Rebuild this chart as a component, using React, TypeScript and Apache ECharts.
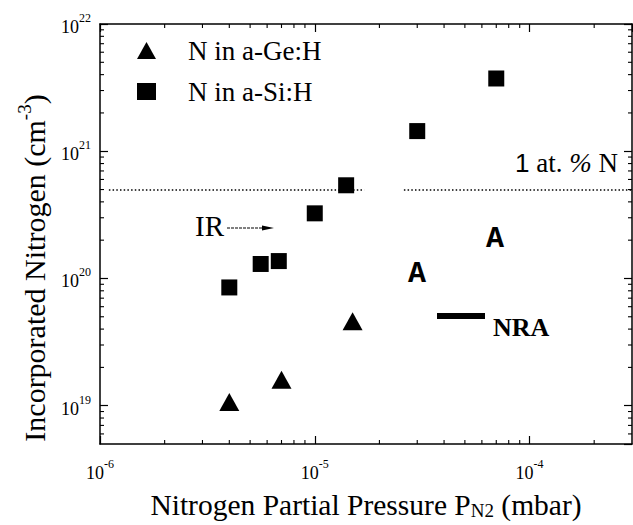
import React, { useEffect, useRef } from "react";
import * as echarts from "echarts";

const SERIF = "Liberation Serif";
const SANS = "Liberation Sans";
const MONO = "Liberation Mono";

// ---- data ----
const geLabel = "N in a-Ge:H";
const siLabel = "N in a-Si:H";
const gePressure = [4e-6, 7e-6, 1.5e-5];
const geNitrogen = [1.07e19, 1.6e19, 4.6e19];
const siPressure = [4e-6, 5.6e-6, 6.8e-6, 1e-5, 1.4e-5, 3e-5, 7e-5];
const siNitrogen = [8.5e19, 1.3e20, 1.37e20, 3.25e20, 5.4e20, 1.44e21, 3.73e21];

// axes
const xMin = 1e-6;
const xMax = 3e-4;
const yMin = 5e18;
const yMax = 1e22;
const xMinorTicks = [
  2e-6, 3e-6, 4e-6, 5e-6, 6e-6, 7e-6, 8e-6, 9e-6,
  2e-5, 3e-5, 4e-5, 5e-5, 6e-5, 7e-5, 8e-5, 9e-5,
  2e-4,
];
const yMinorTicks = [
  6e18, 7e18, 8e18, 9e18,
  2e19, 3e19, 4e19, 5e19, 6e19, 7e19, 8e19, 9e19,
  2e20, 3e20, 4e20, 5e20, 6e20, 7e20, 8e20, 9e20,
  2e21, 3e21, 4e21, 5e21, 6e21, 7e21, 8e21, 9e21,
];

// 1 at.% N reference level (dotted line, drawn in two pieces)
const onePercentLevel = 5e20;
const onePercentStarts = [1.1e-6, 2.6e-5];
const onePercentEnds = [1.7e-5, 3e-4];

const tickRich = {
  b: { fontFamily: SERIF, fontSize: 18, lineHeight: 24, color: "#000", verticalAlign: "bottom" },
  s: { fontFamily: SERIF, fontSize: 12, lineHeight: 12, color: "#000", verticalAlign: "top" },
};
const powLabel = (v: number) => `{b|10}{s|${Math.round(Math.log10(v))}}`;

const axisLine = { show: true, onZero: false, lineStyle: { color: "#000", width: 1.5 } };
const majorTick = { show: true, inside: true, length: 8, lineStyle: { color: "#000", width: 1.2 } };

export default function App() {
  const ref = useRef<HTMLDivElement>(null);
  useEffect(() => {
    if (!ref.current) return;
    const chart = echarts.init(ref.current, null, { renderer: "svg" });

    const option: any = {
      animation: false,
      backgroundColor: "#fff",
      textStyle: { fontFamily: SERIF },
      grid: { left: 100, right: 1, top: 24, bottom: 80 },
      legend: {
        data: [
          { name: geLabel, icon: "triangle", itemStyle: { color: "#000", opacity: 1 } },
          { name: siLabel, icon: "rect", itemStyle: { color: "#000", opacity: 1 } },
        ],
        orient: "vertical",
        left: 137,
        top: 37,
        padding: 0,
        itemGap: 14,
        itemWidth: 19,
        itemHeight: 17,
        selectedMode: false,
        textStyle: { fontFamily: SERIF, fontSize: 27, color: "#000", padding: [0, 0, 0, 27] },
      },
      xAxis: [
        {
          type: "log",
          logBase: 10,
          min: xMin,
          max: xMax,
          position: "bottom",
          axisLine,
          axisTick: majorTick,
          splitLine: { show: false },
          axisLabel: { formatter: powLabel, rich: tickRich, margin: 14, showMaxLabel: false },
          name: "{t|Nitrogen Partial Pressure P}{u|N2}{t| (mbar)}",
          nameLocation: "middle",
          nameGap: 42,
          nameTextStyle: {
            rich: {
              t: { fontFamily: SERIF, fontSize: 29.5, lineHeight: 34, color: "#000", verticalAlign: "bottom" },
              u: { fontFamily: SERIF, fontSize: 19, lineHeight: 14, color: "#000", verticalAlign: "bottom" },
            },
          },
        },
        {
          type: "log",
          logBase: 10,
          min: xMin,
          max: xMax,
          position: "top",
          axisLine,
          axisTick: majorTick,
          splitLine: { show: false },
          axisLabel: { show: false },
        },
      ],
      yAxis: [
        {
          type: "log",
          logBase: 10,
          min: yMin,
          max: yMax,
          position: "left",
          axisLine,
          axisTick: majorTick,
          splitLine: { show: false },
          axisLabel: { formatter: powLabel, rich: tickRich, margin: 9, showMinLabel: false },
        },
        {
          type: "log",
          logBase: 10,
          min: yMin,
          max: yMax,
          position: "right",
          axisLine,
          axisTick: majorTick,
          splitLine: { show: false },
          axisLabel: { show: false },
        },
      ],
      series: [
        {
          name: geLabel,
          type: "scatter",
          symbol: "triangle",
          symbolSize: [20, 18],
          itemStyle: { color: "#000", opacity: 1 },
          data: gePressure.map((p, i) => [p, geNitrogen[i]]),
        },
        {
          name: siLabel,
          type: "scatter",
          symbol: "rect",
          symbolSize: 16,
          itemStyle: { color: "#000", opacity: 1 },
          data: siPressure.map((p, i) => [p, siNitrogen[i]]),
          markLine: {
            silent: true,
            symbol: ["none", "none"],
            label: { show: false },
            lineStyle: { type: [1.5, 2.2], color: "#000", width: 1.6, opacity: 1 },
            data: onePercentStarts.map((s, i) => [
              { coord: [s, onePercentLevel] },
              { coord: [onePercentEnds[i], onePercentLevel] },
            ]),
          },
        },
        {
          name: "xMinor",
          type: "custom",
          silent: true,
          clip: false,
          data: xMinorTicks.map((v) => [v, yMin]),
          renderItem: (params: any, api: any) => {
            const v = api.value(0);
            const b = api.coord([v, yMin]);
            const t = api.coord([v, yMax]);
            const st = { stroke: "#000", lineWidth: 1.1 };
            return {
              type: "group",
              children: [
                { type: "line", shape: { x1: b[0], y1: b[1], x2: b[0], y2: b[1] - 4 }, style: st },
                { type: "line", shape: { x1: t[0], y1: t[1], x2: t[0], y2: t[1] + 4 }, style: st },
              ],
            };
          },
        },
        {
          name: "yMinor",
          type: "custom",
          silent: true,
          clip: false,
          data: yMinorTicks.map((v) => [xMin, v]),
          renderItem: (params: any, api: any) => {
            const v = api.value(1);
            const l = api.coord([xMin, v]);
            const r = api.coord([xMax, v]);
            const st = { stroke: "#000", lineWidth: 1.1 };
            return {
              type: "group",
              children: [
                { type: "line", shape: { x1: l[0], y1: l[1], x2: l[0] + 4, y2: l[1] }, style: st },
                { type: "line", shape: { x1: r[0], y1: r[1], x2: r[0] - 4, y2: r[1] }, style: st },
              ],
            };
          },
        },
      ],
      graphic: [
        {
          type: "text",
          x: 32,
          y: 268,
          rotation: Math.PI / 2,
          style: {
            text: "{t|Incorporated Nitrogen (cm}{s|-3}{t|)}",
            align: "center",
            verticalAlign: "middle",
            rich: {
              t: { fontFamily: SERIF, fontSize: 30, lineHeight: 34, fill: "#000", verticalAlign: "bottom" },
              s: { fontFamily: SERIF, fontSize: 19, lineHeight: 14, fill: "#000", verticalAlign: "top" },
            },
          },
        },
        {
          type: "text",
          x: 515,
          y: 163,
          style: {
            text: "{a|1}{b| at. }{c|%}{b| N}",
            align: "left",
            verticalAlign: "middle",
            rich: {
              a: { fontFamily: SANS, fontSize: 26, fill: "#000" },
              b: { fontFamily: SERIF, fontSize: 27, fill: "#000" },
              c: { fontFamily: SERIF, fontSize: 27, fontStyle: "italic", fill: "#000" },
            },
          },
        },
        {
          type: "text",
          x: 195,
          y: 226,
          style: { text: "IR", fontFamily: SERIF, fontSize: 29, fill: "#000", align: "left", verticalAlign: "middle" },
        },
        {
          type: "line",
          shape: { x1: 227, y1: 228, x2: 266, y2: 228 },
          style: { stroke: "#000", lineWidth: 1, lineDash: [3, 1] },
        },
        {
          type: "polygon",
          shape: { points: [[262, 225.5], [274, 228], [262, 230.5]] },
          style: { fill: "#000" },
        },
        {
          type: "text",
          x: 417,
          y: 274,
          style: { text: "A", fontFamily: MONO, fontWeight: "bold", fontSize: 30, fill: "#000", align: "center", verticalAlign: "middle" },
        },
        {
          type: "text",
          x: 495,
          y: 239,
          style: { text: "A", fontFamily: MONO, fontWeight: "bold", fontSize: 30, fill: "#000", align: "center", verticalAlign: "middle" },
        },
        {
          type: "rect",
          shape: { x: 437, y: 313, width: 48, height: 6 },
          style: { fill: "#000" },
        },
        {
          type: "text",
          x: 493,
          y: 327,
          style: { text: "NRA", fontFamily: SERIF, fontWeight: "bold", fontSize: 26, fill: "#000", align: "left", verticalAlign: "middle" },
        },
      ],
    };

    chart.setOption(option);
    return () => chart.dispose();
  }, []);

  return (
    <div
      ref={ref}
      style={{ position: "absolute", left: 0, top: 0, width: 633, height: 525, background: "#fff" }}
    />
  );
}
